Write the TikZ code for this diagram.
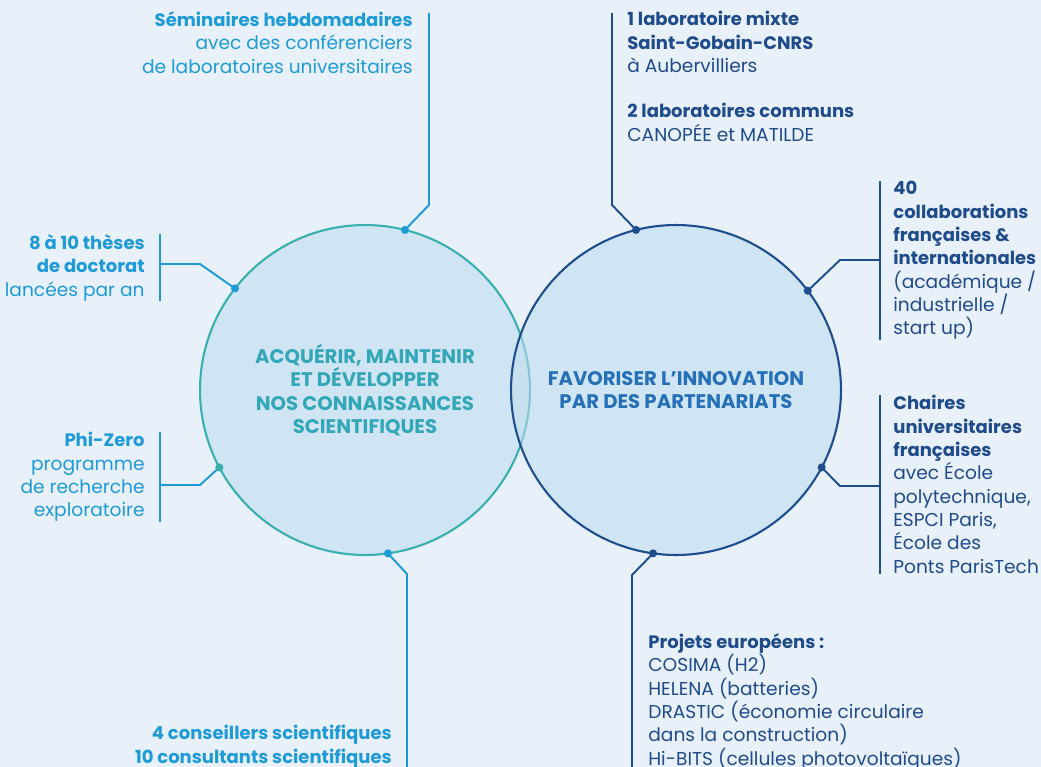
\documentclass[tikz,border=0pt]{standalone}
\usepackage{fontspec}
\setmainfont{Poppins}
\usetikzlibrary{positioning}

\definecolor{bgblue}{HTML}{E8F1FA}
\definecolor{cyanline}{HTML}{1E9AD6}
\definecolor{tealline}{HTML}{3AAFB0}
\definecolor{navyline}{HTML}{1F4E8F}
\definecolor{navytext}{HTML}{1F4B8A}
\definecolor{cyantext}{HTML}{1E9AD6}
\definecolor{circfill}{HTML}{BEDCEE}
\definecolor{tealtext}{HTML}{33A7B8}
\definecolor{innotext}{HTML}{2570B6}

% bold heading lines
\newcommand\hd[1]{{\fontsize{10.25}{13.3}\selectfont\bfseries #1}}

\tikzset{
  goal/.style={circle, minimum size=6.6cm, inner sep=0pt, outer sep=0pt,
    line width=1.2pt, fill=circfill, fill opacity=0.55, text opacity=1,
    align=center, font=\fontsize{11.2}{13.2}\selectfont\bfseries},
  lefttext/.style={align=right, anchor=north east, inner sep=0pt,
    text=cyantext, font=\fontsize{10.6}{13.3}\selectfont},
  righttext/.style={align=left, anchor=north west, inner sep=0pt,
    text=navytext, font=\fontsize{10.6}{13.3}\selectfont},
  lline/.style={cyanline, line width=1.1pt},
  rline/.style={navyline, line width=1.1pt},
  ldot/.style={fill=cyanline},
  rdot/.style={fill=navyline}
}

\begin{document}
\begin{tikzpicture}[x=0.02cm, y=-0.02cm]

  % background
  \fill[bgblue] (0,0) rectangle (1041,767);
  \useasboundingbox (0,0) rectangle (1041,767);

  % the two circles
  \node[goal, draw=tealline, text=tealtext] (acquerir) at (365,390)
    {ACQUÉRIR, MAINTENIR\\ET DÉVELOPPER\\NOS CONNAISSANCES\\SCIENTIFIQUES};
  \node[goal, draw=navyline, text=innotext] (innovation) at (676,390)
    {FAVORISER L’INNOVATION\\PAR DES PARTENARIATS};

  % left texts
  \node[lefttext] (seminaires) at (413,11)
    {\hd{Séminaires hebdomadaires}\\avec des conférenciers\\de laboratoires universitaires};
  \node[lefttext] (theses) at (145,234)
    {\hd{8 à 10 thèses}\\\hd{de doctorat}\\lancées par an};
  \node[lefttext] (phizero) at (145,432)
    {\hd{Phi-Zero}\\programme\\de recherche\\exploratoire};
  \node[lefttext] (conseillers) at (392,725)
    {\hd{4 conseillers scientifiques}\\\hd{10 consultants scientifiques}};

  % right texts
  \node[righttext] (labos) at (627,11)
    {\hd{1 laboratoire mixte}\\\hd{Saint-Gobain-CNRS}\\à Aubervilliers\\[12.5pt]
     \hd{2 laboratoires communs}\\CANOPÉE et MATILDE};
  \node[righttext] (collabs) at (893,181)
    {\hd{40}\\\hd{collaborations}\\\hd{françaises \&}\\\hd{internationales}\\(académique /\\industrielle /\\start up)};
  \node[righttext] (chaires) at (893,395)
    {\hd{Chaires}\\\hd{universitaires}\\\hd{françaises}\\avec École\\polytechnique,\\ESPCI Paris,\\École des\\Ponts ParisTech};
  \node[righttext] (projets) at (648,633)
    {\hd{Projets européens :}\\COSIMA (H2)\\HELENA (batteries)\\DRASTIC (économie circulaire\\dans la construction)\\Hi-BITS (cellules photovoltaïques)};

  % bends and bars
  \coordinate (sem-bend) at (429,205);
  \coordinate (sem-top) at (429,13);
  \coordinate (the-join) at (160,264);
  \coordinate (phi-join) at (160,485);
  \coordinate (con-bend) at (407,574);
  \coordinate (con-end) at (407,767);
  \coordinate (lab-bend) at (612,205);
  \coordinate (lab-top) at (612,13);
  \coordinate (col-join) at (880,260);
  \coordinate (cha-join) at (880,486);
  \coordinate (pro-bend) at (632,575);
  \coordinate (pro-end) at (632,767);

  \draw[lline] ([xshift=0.3cm]theses.north east) -- ([xshift=0.3cm]theses.south east);
  \draw[lline] ([xshift=0.3cm]phizero.north east) -- ([xshift=0.3cm]phizero.south east);
  \draw[rline] ([xshift=-0.26cm]collabs.north west) -- ([xshift=-0.26cm]collabs.south west);
  \draw[rline] ([xshift=-0.26cm]chaires.north west) -- ([xshift=-0.26cm]chaires.south west);

  % connectors
  \draw[lline] (acquerir.76) -- (sem-bend) -- (sem-top);
  \draw[lline] (the-join) -- ++(40,0) -- (acquerir.142);
  \draw[lline] (phi-join) -- ++(40,0) -- (acquerir.208);
  \draw[lline] (acquerir.278) -- (con-bend) -- (con-end);
  \draw[rline] (innovation.104) -- (lab-bend) -- (lab-top);
  \draw[rline] (col-join) -- ++(-40,0) -- (innovation.37);
  \draw[rline] (cha-join) -- ++(-40,0) -- (innovation.-28);
  \draw[rline] (innovation.262) -- (pro-bend) -- (pro-end);

  % dots
  \foreach \a in {76,142,278}
    \fill[ldot] (acquerir.\a) circle[radius=2.3pt];
  \fill[tealline] (acquerir.208) circle[radius=2.3pt];
  \foreach \a in {104,37,-28,262}
    \fill[rdot] (innovation.\a) circle[radius=2.3pt];

\end{tikzpicture}
\end{document}
